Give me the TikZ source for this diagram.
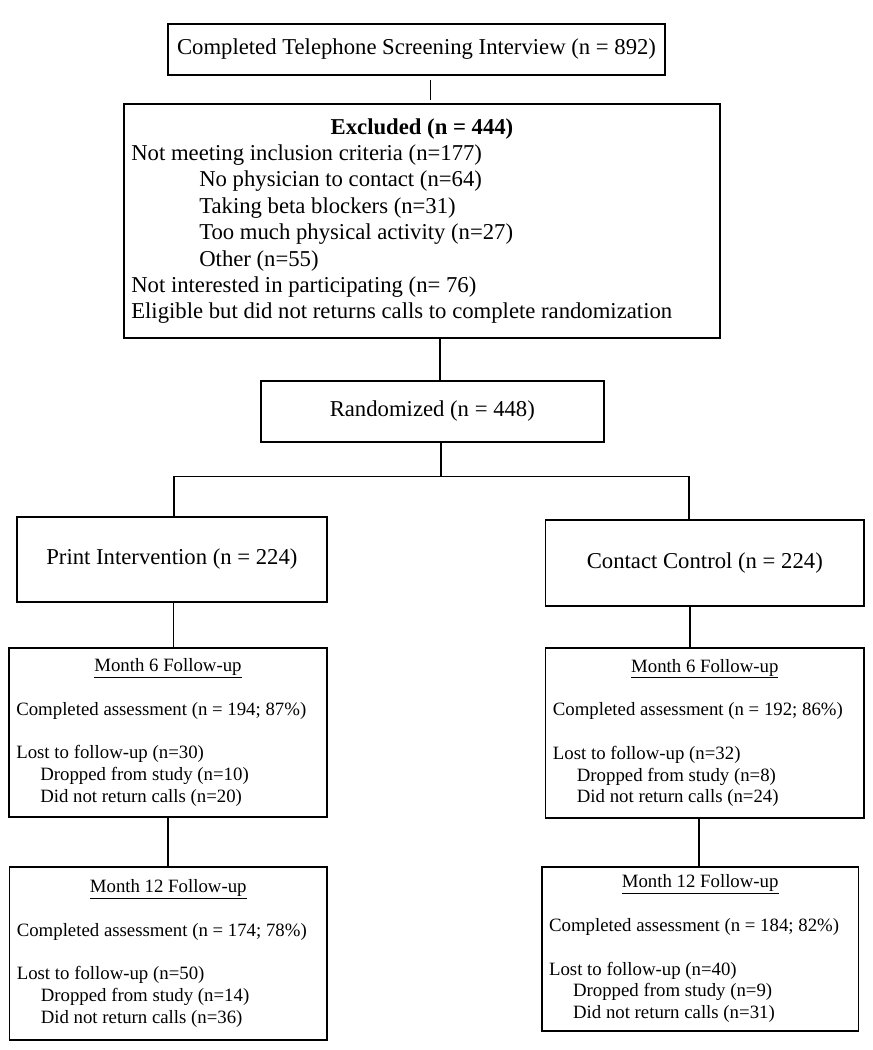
\documentclass[tikz,border=0pt]{standalone}
\usepackage{fontspec}
\setmainfont{Liberation Serif}
\newcommand\bigtxt{\fontsize{22.7}{26.4}\selectfont}
\newcommand\smalltxt{\fontsize{18.8}{21.8}\selectfont}
\begin{document}
\begin{tikzpicture}[x=1pt,y=-1pt,
  box/.style={draw, line width=1.7pt, inner ysep=0pt, inner xsep=7.3pt, font=\bigtxt},
  onebox/.style={box, inner xsep=0pt},
  fubox/.style={box, font=\smalltxt, align=flush left},
  link/.style={line width=1.3pt}]
\path[use as bounding box] (0,0) rectangle (873,1050);

\node[onebox, minimum width=497pt, minimum height=51pt] (top) at (416.5,49.5)
  {Completed Telephone Screening Interview (n = 892)};

\node[box, align=flush left, text width=581.4pt, minimum height=234pt] (excl) at (422,221)
  {\makebox[\hsize]{\textbf{Excluded (n = 444)}}\\
   Not meeting inclusion criteria (n=177)\\
   \hspace*{68pt}No physician to contact (n=64)\\
   \hspace*{68pt}Taking beta blockers (n=31)\\
   \hspace*{68pt}Too much physical activity (n=27)\\
   \hspace*{68pt}Other (n=55)\\
   Not interested in participating (n= 76)\\
   Eligible but did not returns calls to complete randomization};

\node[onebox, minimum width=343.3pt, minimum height=60.7pt] (rand) at (432.3,411.3)
  {Randomized (n = 448)};

\node[onebox, minimum width=310.3pt, minimum height=85.3pt] (print) at (171.9,559.3)
  {Print Intervention (n = 224)};
\node[onebox, minimum width=318.4pt, minimum height=86pt] (contact) at (704.8,563)
  {Contact Control (n = 224)};

\node[fubox, text width=303.4pt, minimum height=169pt] (m6L) at (168,732.5)
  {\makebox[\hsize]{\underline{Month 6 Follow-up}}\\[21.8pt]
   Completed assessment (n = 194; 87\%)\\[21.8pt]
   Lost to follow-up (n=30)\\
   \hspace*{24pt}Dropped from study (n=10)\\
   \hspace*{24pt}Did not return calls (n=20)};
\node[fubox, text width=303.8pt, minimum height=170pt] (m6R) at (704.8,733)
  {\makebox[\hsize]{\underline{Month 6 Follow-up}}\\[21.8pt]
   Completed assessment (n = 192; 86\%)\\[21.8pt]
   Lost to follow-up (n=32)\\
   \hspace*{24pt}Dropped from study (n=8)\\
   \hspace*{24pt}Did not return calls (n=24)};

\node[fubox, text width=302.9pt, minimum height=173.3pt] (m12L) at (168.25,953.3)
  {\makebox[\hsize]{\underline{Month 12 Follow-up}}\\[21.8pt]
   Completed assessment (n = 174; 78\%)\\[21.8pt]
   Lost to follow-up (n=50)\\
   \hspace*{24pt}Dropped from study (n=14)\\
   \hspace*{24pt}Did not return calls (n=36)};
\node[fubox, text width=302.2pt, minimum height=164.3pt] (m12R) at (700.2,948.8)
  {\makebox[\hsize]{\underline{Month 12 Follow-up}}\\[21.8pt]
   Completed assessment (n = 184; 82\%)\\[21.8pt]
   Lost to follow-up (n=40)\\
   \hspace*{24pt}Dropped from study (n=9)\\
   \hspace*{24pt}Did not return calls (n=31)};

\draw[link, shorten <=4pt, shorten >=3pt] ([xshift=14.2pt]top.south) -- ([xshift=14.2pt]top.south |- excl.north);
\draw[link] ([xshift=18pt]excl.south) -- ([xshift=18pt]excl.south |- rand.north);
\coordinate (split) at ([xshift=8.7pt,yshift=-34pt]rand.south);
\draw[link] ([xshift=8.7pt]rand.south) -- (split);
\draw[link] ([xshift=2pt]print.north) |- (split) -| ([xshift=-15.8pt]contact.north);
\draw[link] ([xshift=1.8pt]print.south) -- ([xshift=1.8pt]print.south |- m6L.north);
\draw[link] ([xshift=-14.8pt]contact.south) -- ([xshift=-14.8pt]contact.south |- m6R.north);
\draw[link] (m6L.south) -- (m6L.south |- m12L.north);
\draw[link] ([xshift=-5.8pt]m6R.south) -- ([xshift=-5.8pt]m6R.south |- m12R.north);
\end{tikzpicture}
\end{document}
